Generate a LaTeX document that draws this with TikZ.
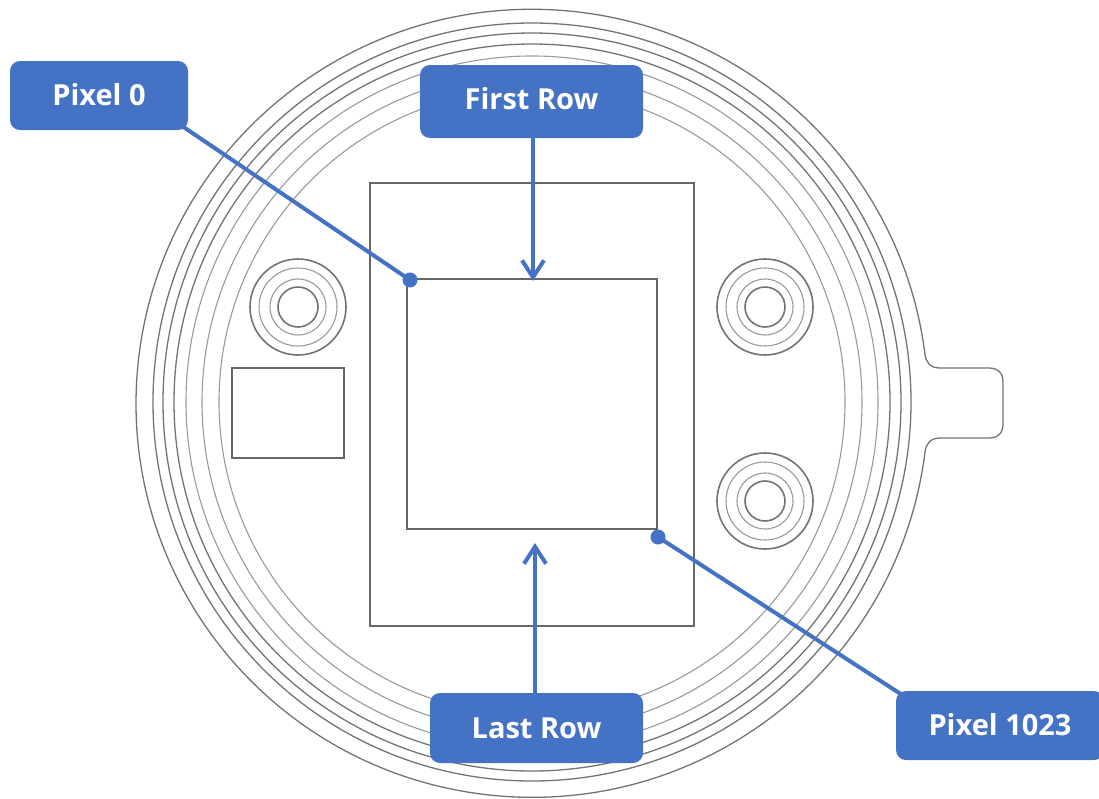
\documentclass[tikz,border=0pt]{standalone}
\usepackage{fontspec}
\setmainfont{Open Sans}
\usetikzlibrary{arrows.meta}
\definecolor{labelblue}{HTML}{4472C4}
\tikzset{
  ringline/.style={draw=black!55,line width=1.3pt},
  faintline/.style={draw=black!40,line width=1.1pt},
  boxline/.style={draw=black!60,line width=1.6pt},
  calloutbox/.style={fill=labelblue,text=white,rounded corners=10pt,inner sep=0pt,font=\fontsize{29}{35}\selectfont\bfseries},
  leader/.style={draw=labelblue,line width=4pt},
  enddot/.style={circle,fill=labelblue,inner sep=0pt,minimum size=15pt}
}
\newcommand{\mountring}[2]{
  \draw[ringline,line width=1.6pt] ( #1 , #2 ) circle (48);
  \draw[faintline] ( #1 , #2 ) circle (39);
  \draw[faintline] ( #1 , #2 ) circle (28);
  \draw[ringline,line width=1.6pt] ( #1 , #2 ) circle (20);
}
\newcommand{\callout}[6]{\node[calloutbox,minimum width=#4pt,minimum height=#5pt] (#1) at ( #2 , #3 ) {#6};}
\begin{document}
\begin{tikzpicture}[x=1pt,y=-1pt]
\useasboundingbox (0,0) rectangle (1099,798);
% outer rim with the tab
\draw[ringline] (925,452) arc[start angle=7.1,end angle=352.9,x radius=396,y radius=394]
  .. controls (926,362) and (930,368) .. (940,368) -- (989,368)
  .. controls (998,368) and (1003,373) .. (1003,382) -- (1003,424)
  .. controls (1003,433) and (998,438) .. (989,438) -- (940,438)
  .. controls (930,438) and (926,444) .. (925,452);
% rings inside the rim
\foreach \rad in {379,369,358}
  \draw[ringline] (532,402) circle (\rad);
\foreach \rad in {346,330,313}
  \draw[faintline] (532,402) circle (\rad);
% mounting holes
\mountring{298}{307}
\mountring{765}{307}
\mountring{765}{501}
% connector pad
\draw[boxline] (232,368) rectangle (344,458);
% sensor board and pixel area
\draw[boxline] (370,183) rectangle (694,626);
\draw[boxline] (407,279) rectangle (657,529);
% labels
\callout{pixelzero}{99}{95.5}{178}{69}{\raisebox{2pt}{Pixel 0}}
\callout{firstrow}{531.5}{101.5}{223}{73}{\raisebox{7pt}{First Row}}
\callout{lastrow}{536.5}{728}{213}{70}{Last Row}
\callout{pixelend}{1000}{725.5}{208}{69}{\raisebox{2pt}{Pixel 1023}}
% ends of the connectors
\node[enddot] (dotzero) at (410,280) {};
\node[enddot] (dotend) at (658,537) {};
\coordinate (firstend) at (533,281);
\coordinate (lastend) at (535,543);
% connectors
\draw[leader,shorten <=-6pt] (pixelzero.south east) -- (dotzero.center);
\draw[leader,shorten <=-6pt] (pixelend.north west) -- (dotend.center);
\draw[leader,-{Straight Barb[length=17pt,width=22pt]}] (firstrow.south -| firstend) -- (firstend);
\draw[leader,-{Straight Barb[length=17pt,width=22pt]}] (lastrow.north -| lastend) -- (lastend);
\end{tikzpicture}
\end{document}
